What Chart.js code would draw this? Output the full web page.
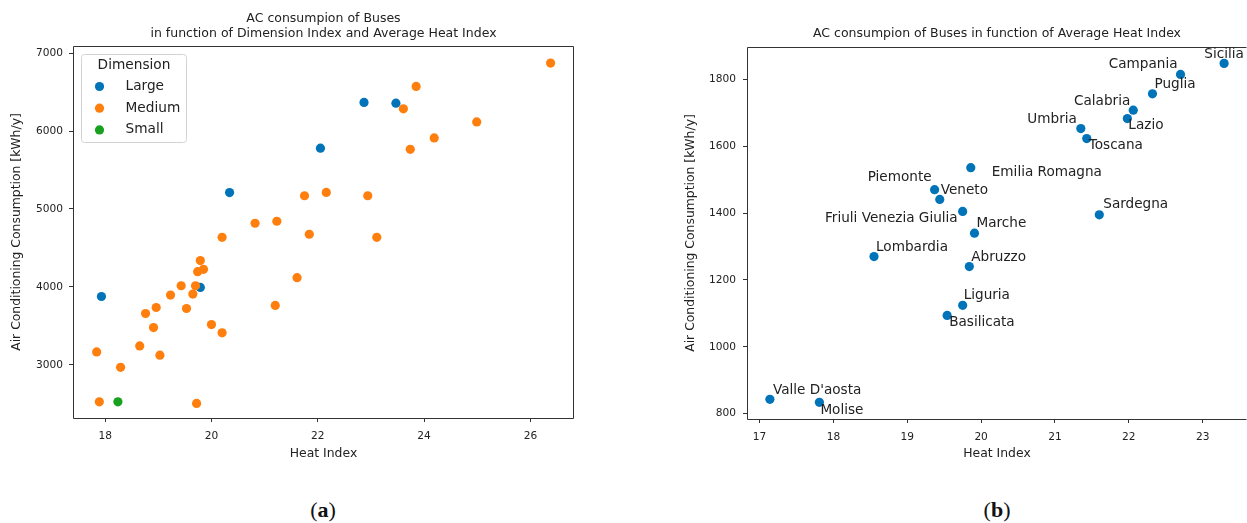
<!DOCTYPE html>
<html>
<head>
<meta charset="utf-8">
<script src="https://cdn.jsdelivr.net/npm/chart.js@4.4.1/dist/chart.umd.min.js"></script>
<style>
    body { margin: 0; background: #fff; width: 1247px; height: 523px; overflow: hidden; position: relative; }
    #chartA { position: absolute; left: 0; top: 0; }
    #chartB { position: absolute; left: 627px; top: 0; }
    .cap { position: absolute; top: 496px; width: 100px; text-align: center; font-family: "Liberation Serif", serif; font-size: 22px; line-height: 28px; color: #111; }
</style>
</head>
<body>
<canvas id="chartA" width="620" height="480"></canvas>
<canvas id="chartB" width="620" height="480"></canvas>
<div class="cap" style="left:273px">(<b>a</b>)</div>
<div class="cap" style="left:947px">(<b>b</b>)</div>

<script>
// ---- data (a): heat index vs consumption by bus dimension ----
const dimensionLabels = ['Large', 'Medium', 'Small'];

const largeHeat = [22.05, 20.34, 19.79, 17.93, 22.87, 23.47];
const largeCons = [5780, 5210, 3994, 3878, 6366, 6357];

const mediumHeat = [26.38, 23.85, 23.61, 24.99, 24.19, 23.74, 21.75, 22.16, 22.94, 20.82,
    21.23, 21.84, 20.20, 23.11, 19.79, 19.74, 19.85, 19.70, 19.65, 19.43,
    19.23, 18.96, 18.76, 19.53, 18.91, 20.00, 20.20, 21.61, 21.20, 18.65,
    17.84, 19.03, 18.29, 17.89, 19.72];
const mediumCons = [6871, 6572, 6284, 6117, 5911, 5765, 5170, 5212, 5170, 4817,
    4843, 4676, 4637, 4637, 4338, 4196, 4226, 4016, 3909, 4016,
    3896, 3737, 3660, 3724, 3480, 3518, 3412, 4119, 3763, 3244,
    3167, 3125, 2970, 2528, 2507];

const smallHeat = [18.24];
const smallCons = [2528];

// ---- data (b): regions ----
const regions = ['Sicilia', 'Campania', 'Puglia', 'Calabria', 'Lazio', 'Umbria', 'Toscana',
    'Emilia Romagna', 'Sardegna', 'Marche', 'Piemonte', 'Veneto', 'Friuli Venezia Giulia',
    'Abruzzo', 'Liguria', 'Basilicata', 'Lombardia', "Valle D'aosta", 'Molise'];
const regionHeat = [23.29, 22.70, 22.32, 22.06, 21.98, 21.35, 21.43, 19.86, 21.60, 19.91,
    19.37, 19.44, 19.75, 19.84, 19.75, 19.54, 18.55, 17.14, 17.81];
const regionCons = [1848, 1815, 1757, 1708, 1683, 1653, 1623, 1536, 1395, 1340,
    1470, 1441, 1405, 1240, 1124, 1094, 1270, 843, 834];

// ---- ticks and texts ----
const ticksAX = [18, 20, 22, 24, 26];
const ticksAY = [3000, 4000, 5000, 6000, 7000];
const ticksBX = [17, 18, 19, 20, 21, 22, 23];
const ticksBY = [800, 1000, 1200, 1400, 1600, 1800];

const titleA = ['AC consumpion of Buses', 'in function of Dimension Index and Average Heat Index'];
const titleB = 'AC consumpion of Buses in function of Average Heat Index';
const xTitle = 'Heat Index';
const yTitle = 'Air Conditioning Consumption [kWh/y]';
const legendTitle = 'Dimension';

const colors = { Large: '#0173b8', Medium: '#ff7f0e', Small: '#17a11f' };
const textColor = '#222';
const FONT = '"DejaVu Sans", sans-serif';

// where each region name sits relative to its dot: [align, dx, dy]
const labelPlacement = {
    'Sicilia': ['center', 0, -9],
    'Campania': ['right', -3, -10],
    'Puglia': ['left', 2, -9],
    'Calabria': ['right', -3, -9],
    'Lazio': ['left', 1, 7],
    'Umbria': ['right', -4, -9],
    'Toscana': ['left', 2, 7],
    'Emilia Romagna': ['left', 21, 5],
    'Sardegna': ['left', 4, -10],
    'Marche': ['left', 2, -10],
    'Piemonte': ['right', -3, -12],
    'Veneto': ['left', 1, -9],
    'Friuli Venezia Giulia': ['right', -5, 7],
    'Abruzzo': ['left', 2, -9],
    'Liguria': ['left', 1, -10],
    'Basilicata': ['left', 2, 7],
    'Lombardia': ['left', 2, -9],
    "Valle D'aosta": ['left', 3, -9],
    'Molise': ['left', 1, 8]
};

Chart.defaults.font.family = FONT;
Chart.defaults.color = textColor;

function toPoints(xs, ys) {
    return xs.map((x, i) => ({ x: x, y: ys[i] }));
}

// box round the plot area, like matplotlib spines
const framePlugin = {
    id: 'frame',
    afterDatasetsDraw(chart, args, opts) {
        const { ctx, chartArea: a } = chart;
        const l = Math.round(a.left) + 0.5, t = Math.round(a.top) + 0.5;
        const r = Math.round(a.right) - 0.5, b = Math.round(a.bottom) + 0.5;
        ctx.save();
        ctx.strokeStyle = '#333';
        ctx.lineWidth = 1;
        ctx.beginPath();
        ctx.moveTo(r, t); ctx.lineTo(l, t); ctx.lineTo(l, b); ctx.lineTo(r, b);
        if (opts.right !== false) ctx.lineTo(r, t);
        ctx.stroke();
        ctx.restore();
    }
};

// legend box drawn inside the plot, top left
const dimLegendPlugin = {
    id: 'dimLegend',
    afterDraw(chart, args, opts) {
        if (!opts.show) return;
        const { ctx, chartArea: a } = chart;
        const x = Math.round(a.left) + 8.5, y = Math.round(a.top) + 8.5, w = 105, h = 88;
        ctx.save();
        ctx.fillStyle = 'rgba(255,255,255,0.8)';
        ctx.strokeStyle = '#d3d3d3';
        ctx.lineWidth = 1;
        ctx.beginPath();
        ctx.roundRect(x, y, w, h, 3);
        ctx.fill();
        ctx.stroke();

        ctx.font = '13.7px ' + FONT;
        ctx.fillStyle = textColor;
        ctx.textBaseline = 'middle';
        ctx.textAlign = 'center';
        ctx.fillText(legendTitle, x + w / 2, y + 11);

        ctx.textAlign = 'left';
        dimensionLabels.forEach((lab, i) => {
            const cy = y + 32 + i * 21.7;
            ctx.fillStyle = colors[lab];
            ctx.beginPath();
            ctx.arc(x + 18, cy, 4.6, 0, Math.PI * 2);
            ctx.fill();
            ctx.fillStyle = textColor;
            ctx.fillText(lab, x + 44, cy);
        });
        ctx.restore();
    }
};

// region names next to the dots
const regionLabelPlugin = {
    id: 'regionLabels',
    afterDatasetsDraw(chart, args, opts) {
        if (!opts.show) return;
        const { ctx } = chart;
        const meta = chart.getDatasetMeta(0);
        ctx.save();
        ctx.font = '13.6px ' + FONT;
        ctx.fillStyle = textColor;
        ctx.textBaseline = 'middle';
        meta.data.forEach((pt, i) => {
            const name = regions[i];
            const p = labelPlacement[name];
            ctx.textAlign = p[0];
            ctx.fillText(name, pt.x + p[1], pt.y + p[2]);
        });
        ctx.restore();
    }
};

function axisOptions(cfg) {
    const tickFont = { family: FONT, size: 10.6 };
    const titleFont = { family: FONT, size: 12.4, lineHeight: 1.2 };
    return {
        x: {
            type: 'linear',
            min: cfg.xMin,
            max: cfg.xMax,
            afterBuildTicks: s => { s.ticks = cfg.xTicks.map(v => ({ value: v })); },
            afterFit: s => { s.height = cfg.xHeight; },
            border: { display: false },
            grid: { drawOnChartArea: false, drawTicks: true, tickLength: 4, tickColor: '#333' },
            ticks: { font: tickFont, color: textColor, padding: 8, autoSkip: false, maxRotation: 0, callback: v => String(v) },
            title: { display: true, text: xTitle, font: titleFont, color: textColor, padding: { top: 0, bottom: cfg.xTitlePad } }
        },
        y: {
            type: 'linear',
            min: cfg.yMin,
            max: cfg.yMax,
            afterBuildTicks: s => { s.ticks = cfg.yTicks.map(v => ({ value: v })); },
            afterFit: s => { s.width = cfg.yWidth; },
            border: { display: false },
            grid: { drawOnChartArea: false, drawTicks: true, tickLength: 4, tickColor: '#333' },
            ticks: { font: tickFont, color: textColor, padding: cfg.yTickPad, autoSkip: false, callback: v => String(v) },
            title: { display: true, text: yTitle, font: titleFont, color: textColor, padding: { top: cfg.yTitlePad, bottom: 0 } }
        }
    };
}

// ---- chart (a) ----
new Chart(document.getElementById('chartA'), {
    type: 'scatter',
    data: {
        datasets: [
            { label: 'Large', data: toPoints(largeHeat, largeCons), backgroundColor: colors.Large, order: 2 },
            { label: 'Medium', data: toPoints(mediumHeat, mediumCons), backgroundColor: colors.Medium, order: 1 },
            { label: 'Small', data: toPoints(smallHeat, smallCons), backgroundColor: colors.Small, order: 0 }
        ]
    },
    options: {
        responsive: false,
        animation: false,
        elements: { point: { radius: 4.6, borderWidth: 0, hoverRadius: 4.6 } },
        layout: { autoPadding: false, padding: { left: 0, right: 46, top: 0, bottom: 0 } },
        scales: axisOptions({
            xMin: 17.395, xMax: 26.82, xTicks: ticksAX, xHeight: 62, xTitlePad: 18.5,
            yMin: 2320, yMax: 7090, yTicks: ticksAY, yWidth: 73, yTitlePad: 9.5, yTickPad: 6
        }),
        plugins: {
            legend: { display: false },
            tooltip: { enabled: false },
            title: {
                display: true, text: titleA, color: textColor, fullSize: false,
                font: { family: FONT, size: 12.5, weight: 'normal', lineHeight: '15px' },
                padding: { top: 10.8, bottom: 5.2 }
            },
            dimLegend: { show: true }
        }
    },
    plugins: [framePlugin, dimLegendPlugin]
});

// ---- chart (b) ----
new Chart(document.getElementById('chartB'), {
    type: 'scatter',
    data: {
        datasets: [
            { label: 'Regions', data: toPoints(regionHeat, regionCons), backgroundColor: colors.Large }
        ]
    },
    options: {
        responsive: false,
        animation: false,
        elements: { point: { radius: 4.6, borderWidth: 0, hoverRadius: 4.6 } },
        layout: { autoPadding: false, padding: 0 },
        scales: axisOptions({
            xMin: 16.83, xMax: 23.6, xTicks: ticksBX, xHeight: 61, xTitlePad: 18.5,
            yMin: 784, yMax: 1897, yTicks: ticksBY, yWidth: 120, yTitlePad: 56.5, yTickPad: 7
        }),
        plugins: {
            legend: { display: false },
            tooltip: { enabled: false },
            title: {
                display: true, text: titleB, color: textColor, fullSize: false,
                font: { family: FONT, size: 12.5, weight: 'normal', lineHeight: '15px' },
                padding: { top: 25.8, bottom: 6.2 }
            },
            frame: { right: false },
            regionLabels: { show: true }
        }
    },
    plugins: [framePlugin, regionLabelPlugin]
});
</script>
</body>
</html>
